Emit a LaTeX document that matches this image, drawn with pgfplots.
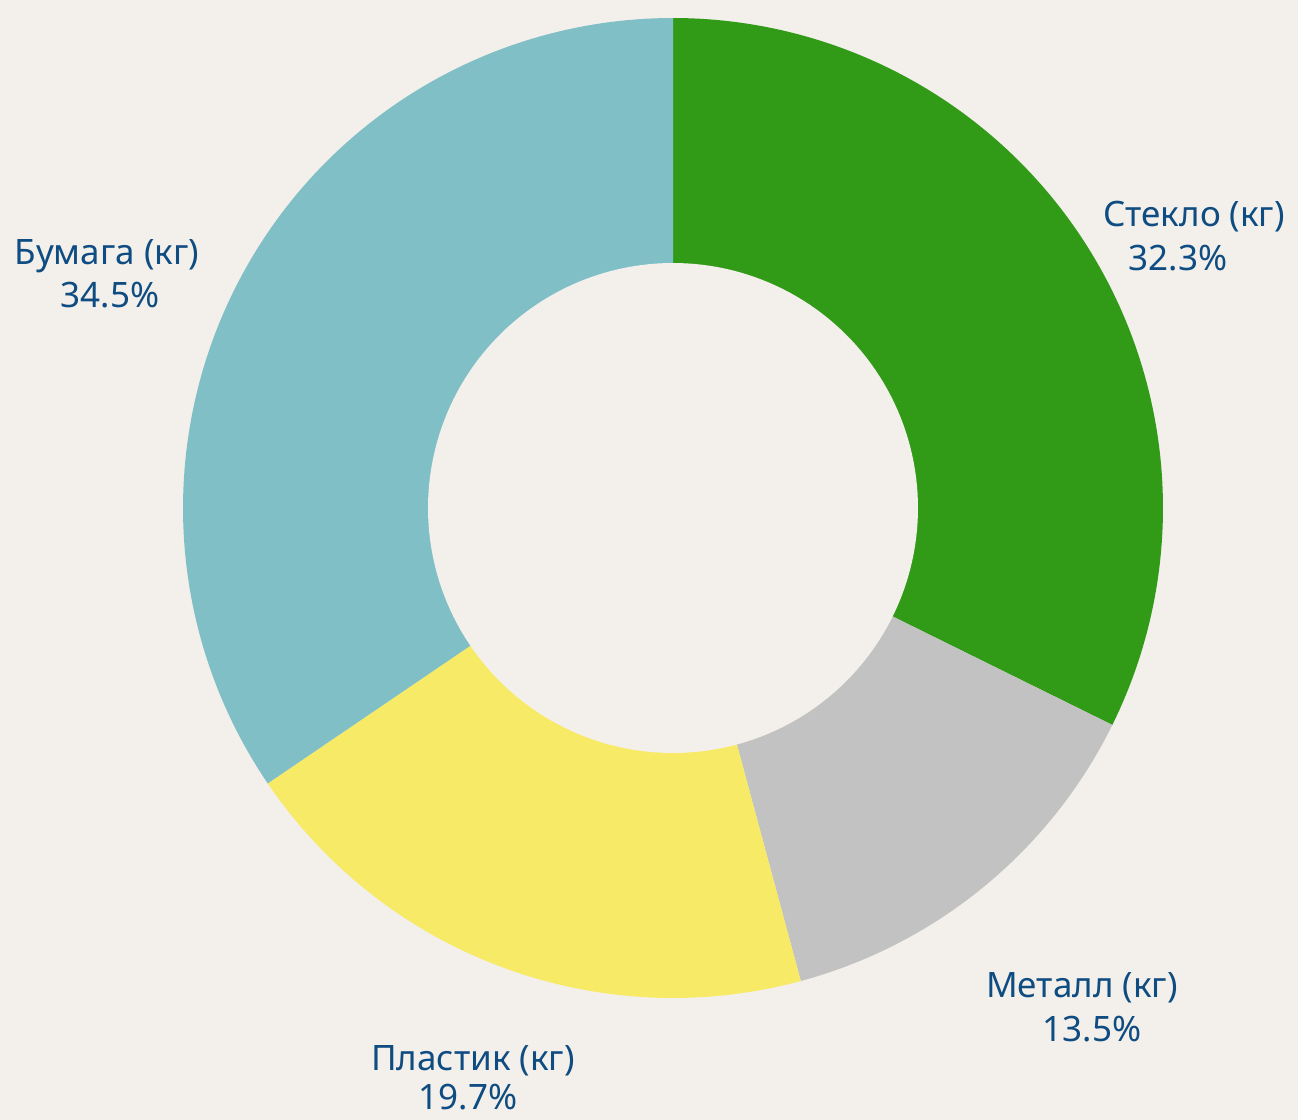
\documentclass[border=0pt]{standalone}
\usepackage{pgfplots}
\usepackage{pgfplotstable}
\pgfplotsset{compat=1.18}
\usepackage{fontspec}
\setmainfont{Noto Sans}
\definecolor{bgc}{RGB}{243,240,235}
\definecolor{cA}{RGB}{49,155,24}
\definecolor{cB}{RGB}{194,194,194}
\definecolor{cC}{RGB}{247,234,102}
\definecolor{cD}{RGB}{128,191,198}
\definecolor{lbl}{RGB}{15,76,129}
\pgfplotstableread{
idx value
0 32.3
1 13.5
2 19.7
3 34.5
}\slices
\begin{document}
\begin{tikzpicture}
\pgfplotstablegetelem{0}{value}\of\slices \let\vA\pgfplotsretval
\pgfplotstablegetelem{1}{value}\of\slices \let\vB\pgfplotsretval
\pgfplotstablegetelem{2}{value}\of\slices \let\vC\pgfplotsretval
\pgfplotstablegetelem{3}{value}\of\slices \let\vD\pgfplotsretval
\pgfmathsetmacro\aA{90}
\pgfmathsetmacro\aB{\aA-3.6*\vA}
\pgfmathsetmacro\aC{\aB-3.6*\vB}
\pgfmathsetmacro\aD{\aC-3.6*\vC}
\pgfmathsetmacro\aE{\aD-3.6*\vD}
\begin{axis}[x=0.5pt,y=0.5pt,xmin=0,xmax=1298,ymin=0,ymax=1120,
  hide axis, clip=false, scale only axis]
\fill[bgc] (0,0) rectangle (1298,1120);
\addplot[fill=cA, draw=none, domain=\aB:\aA, samples=120, variable=\t] ({673+490*cos(\t)},{612+490*sin(\t)}) -- (673,612) -- cycle;
\addplot[fill=cB, draw=none, domain=\aC:\aB, samples=60, variable=\t] ({673+490*cos(\t)},{612+490*sin(\t)}) -- (673,612) -- cycle;
\addplot[fill=cC, draw=none, domain=\aD:\aC, samples=80, variable=\t] ({673+490*cos(\t)},{612+490*sin(\t)}) -- (673,612) -- cycle;
\addplot[fill=cD, draw=none, domain=\aE:\aD, samples=120, variable=\t] ({673+490*cos(\t)},{612+490*sin(\t)}) -- (673,612) -- cycle;
\addplot[fill=bgc, draw=none, domain=0:360, samples=200, variable=\t] ({673+245*cos(\t)},{612+245*sin(\t)}) -- cycle;
\tikzset{lb/.style={anchor=base, text=lbl, inner sep=0pt, font=\fontsize{17.5}{20}\selectfont}}
\node[lb] at (107,855) {Бумага (кг)};
\node[lb] at (110,812) {34.5\%};
\node[lb] at (1194,893) {Стекло (кг)};
\node[lb] at (1178,849) {32.3\%};
\node[lb] at (1082,122) {Металл (кг)};
\node[lb] at (1092,78) {13.5\%};
\node[lb] at (473,49) {Пластик (кг)};
\node[lb] at (468,10) {19.7\%};
\end{axis}
\end{tikzpicture}
\end{document}
